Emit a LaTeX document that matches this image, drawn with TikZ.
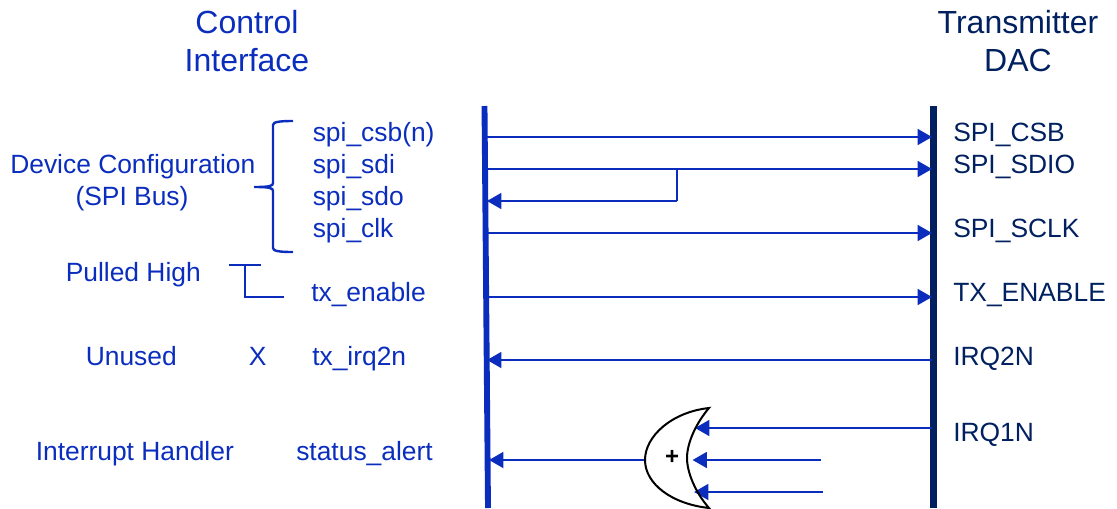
\documentclass[tikz,border=0pt]{standalone}
\usepackage{fontspec}
\setmainfont{Liberation Sans}
\usetikzlibrary{arrows.meta}
\definecolor{sigblue}{HTML}{0A2DBE}
\definecolor{navy}{HTML}{002060}
\tikzset{
  x=0.75pt,y=-0.75pt,
  lbl/.style={anchor=base west,inner sep=0pt,text=sigblue,font=\fontsize{19.8pt}{21pt}\selectfont},
  lblc/.style={anchor=base,inner sep=0pt,text=sigblue,font=\fontsize{19.8pt}{21pt}\selectfont},
  rlbl/.style={anchor=base west,inner sep=0pt,text=navy,font=\fontsize{19.8pt}{21pt}\selectfont},
  ttl/.style={anchor=base,inner sep=0pt,font=\fontsize{24pt}{26pt}\selectfont},
  sig/.style={draw=sigblue,line width=2pt,-{Triangle[length=10.8pt,width=11.8pt]}},
  plain/.style={draw=sigblue,line width=2pt},
  brk/.style={draw=sigblue,line width=1.8pt},
}
\begin{document}
\begin{tikzpicture}
\useasboundingbox (0,0) rectangle (1117,508);
% bars
\coordinate (LT) at (484.5,106); \coordinate (LB) at (488,508);
\coordinate (RT) at (933.5,106); \coordinate (RB) at (933.5,508);
\draw[draw=sigblue,line width=4.4pt] (LT) -- (LB);
\draw[draw=navy,line width=4.6pt] (RT) -- (RB);
% titles
\node[ttl,text=sigblue] (t1) at (247,33) {Control};
\node[ttl,text=sigblue] (t2) at (247,71) {Interface};
\node[ttl,text=navy] (t3) at (1018,33) {Transmitter};
\node[ttl,text=navy] (t4) at (1018,71) {DAC};
% left text
\node[lbl] (dc) at (10,173.5) {Device Configuration};
\node[lblc] (sb) at (132,205.5) {(SPI Bus)};
\node[lbl] (ph) at (65.5,281.5) {Pulled High};
\node[lbl] (un) at (85.5,365.5) {Unused};
\node[lbl] (xx) at (248.5,365.5) {X};
\node[lbl] (ih) at (35.5,460.5) {Interrupt Handler};
\node[lbl] (s1) at (312.5,141.5) {spi\_csb(n)};
\node[lbl] (s2) at (312.5,173.5) {spi\_sdi};
\node[lbl] (s3) at (312.5,205.5) {spi\_sdo};
\node[lbl] (s4) at (312.5,237.5) {spi\_clk};
\node[lbl] (s5) at (311,301.5) {tx\_enable};
\node[lbl] (s6) at (312,365.5) {tx\_irq2n};
\node[lbl] (s7) at (296,460.5) {status\_alert};
% right text
\node[rlbl] (r1) at (953,141.5) {SPI\_CSB};
\node[rlbl] (r2) at (953,173.5) {SPI\_SDIO};
\node[rlbl] (r4) at (953,237.5) {SPI\_SCLK};
\node[rlbl] (r5) at (953,301.5) {TX\_ENABLE};
\node[rlbl] (r6) at (953,365.5) {IRQ2N};
\node[rlbl] (r7) at (953,441.5) {IRQ1N};
% bracket
\coordinate (bt) at (293,121); \coordinate (bb) at (293,252); \coordinate (bm) at (254,187);
\draw[brk] (bt) .. controls (279,121) and (273,122) .. (273,125) -- (273,183)
  .. controls (273,186) and (270,187) .. (bm)
  (bm) .. controls (270,187) and (273,188) .. (273,191) -- (273,248)
  .. controls (273,251) and (279,252) .. (bb);
% pull-up
\coordinate (p1) at (229,265); \coordinate (p2) at (261,265);
\coordinate (p3) at (245,265); \coordinate (p4) at (245,297); \coordinate (p5) at (284,297);
\draw[plain] (p1) -- (p2);
\draw[plain] (p3) -- (p4) -- (p5);
% endpoints
\coordinate (a1) at (486,137); \coordinate (b1) at (932,137);
\coordinate (a2) at (486,169); \coordinate (b2) at (932,169);
\coordinate (j) at (677,169); \coordinate (jb) at (677,201); \coordinate (a3) at (487,201);
\coordinate (a4) at (486,233); \coordinate (b4) at (932,233);
\coordinate (a5) at (486,297); \coordinate (b5) at (932,297);
\coordinate (a6) at (487,360); \coordinate (b6) at (932,360);
\coordinate (a7) at (489,460); \coordinate (g0) at (646,460);
\coordinate (i1) at (932,428); \coordinate (g1) at (695,428);
\coordinate (i2) at (821,460); \coordinate (g2) at (692.5,460);
\coordinate (i3) at (822.5,492); \coordinate (g3) at (694,492);
\draw[sig] (a1) -- (b1);
\draw[sig] (a2) -- (b2);
\draw[plain] (j) -- (jb);
\draw[sig] (jb) -- (a3);
\draw[sig] (a4) -- (b4);
\draw[sig] (a5) -- (b5);
\draw[sig] (b6) -- (a6);
\draw[sig] (g0) -- (a7);
\draw[sig] (i1) -- (g1);
\draw[sig] (i2) -- (g2);
\draw[sig] (i3) -- (g3);
% OR gate
\coordinate (gt) at (709,408); \coordinate (gb) at (709,508);
\draw[black,line width=1.5pt,line join=miter]
  (gt) .. controls (672,412) and (645,436) .. (645,460)
  .. controls (645,484) and (672,504) .. (gb)
  .. controls (695,492) and (687,472) .. (687,458)
  .. controls (687,442) and (697,422) .. (gt) -- cycle;
\node[anchor=base,inner sep=0pt,font=\bfseries\fontsize{18pt}{20pt}\selectfont] (plus) at (672,464.5) {+};
\end{tikzpicture}
\end{document}
